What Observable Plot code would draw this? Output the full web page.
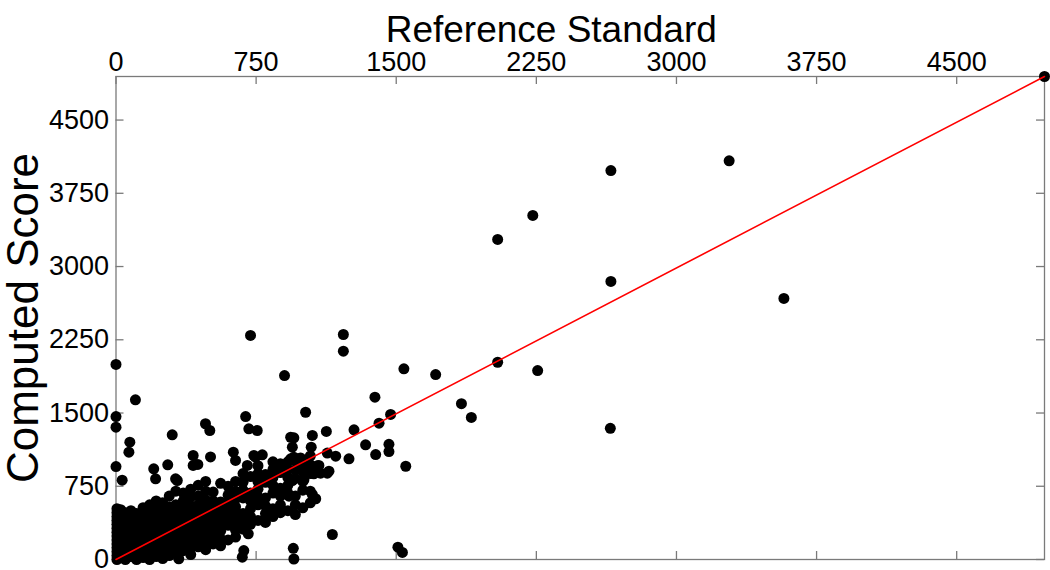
<!DOCTYPE html>
<html><head><meta charset="utf-8">
<script src="https://cdn.jsdelivr.net/npm/d3@7"></script>
<script src="https://cdn.jsdelivr.net/npm/@observablehq/plot@0.6"></script>
<style>body{margin:0;background:#fff}</style>
</head><body><div id="chart"></div>
<script>
const xTitle = "Reference Standard";
const yTitle = "Computed Score";
const tickValues = [0, 750, 1500, 2250, 3000, 3750, 4500];
const axisMax = [4970, 4946];
const fitLine = [[0, 0], [4970, 4946]];

// [reference standard, computed score]
const extremePoints = [
  [4970, 4946], [3282, 4082], [2649, 3983], [2231, 3523], [2043, 3277], [2649, 2847],
  [3575, 2673], [2043, 2020], [2257, 1935], [2646, 1343], [1711, 1894], [1849, 1596],
  [1902, 1455]
];
const upperScatter = [
  [1217, 2304], [1217, 2133], [720, 2294], [0, 1997], [902, 1884], [1541, 1953],
  [1386, 1662], [104, 1635], [1015, 1508], [1470, 1485], [1408, 1396], [1274, 1328],
  [1126, 1311], [1051, 1270], [952, 1246], [694, 1464], [0, 1464], [0, 1355],
  [479, 1390], [502, 1321], [711, 1338], [756, 1321], [301, 1277], [74, 1201],
  [69, 1099], [0, 952], [33, 812], [1336, 1174], [1461, 1180], [1461, 1105],
  [1390, 1075], [1045, 1150], [944, 1150], [1131, 1090], [1176, 1058], [1247, 1031],
  [1551, 955], [988, 1040], [952, 1048], [997, 990], [1078, 960], [1095, 884],
  [1131, 884], [944, 809], [1006, 816], [1059, 877], [1140, 904], [1086, 963],
  [899, 689], [926, 648], [1051, 666], [1069, 622], [935, 1252]
];
const lowOutliers = [
  [1158, 256], [949, 115], [952, 5], [1509, 126], [1533, 72], [336, 7], [676, 24],
  [684, 92], [708, 263]
];
const midScatter = [
  [202, 929], [212, 826], [277, 970], [319, 826], [328, 809], [413, 1065], [413, 963],
  [438, 973], [506, 1050], [628, 1099], [640, 1014], [703, 963], [738, 1065], [783, 1072],
  [863, 952], [899, 963], [935, 1031], [845, 939], [747, 1048]
];
const cloudNearZero = [
  [5, 0], [5, 40], [5, 80], [5, 120], [5, 160], [5, 200], [5, 240], [5, 280], [5, 320],
  [5, 360], [5, 400], [5, 440], [5, 480], [5, 520],
  [25, 20], [25, 90], [25, 160], [25, 230], [25, 300], [25, 370], [25, 440], [25, 510],
  [50, 0], [50, 60], [50, 130], [50, 200], [50, 270], [50, 340], [50, 410], [50, 480],
  [80, 30], [80, 100], [80, 170], [80, 240], [80, 310], [80, 380], [80, 450], [80, 500],
  [110, 0], [110, 70], [110, 140], [110, 210], [110, 280], [110, 350], [110, 420], [110, 470],
  [145, 20], [145, 90], [145, 160], [145, 230], [145, 300], [145, 370], [145, 440], [145, 530],
  [180, 0], [180, 60], [180, 130], [180, 200], [180, 270], [180, 340], [180, 410], [180, 480], [180, 560],
  [215, 30], [215, 100], [215, 170], [215, 240], [215, 310], [215, 380], [215, 450], [215, 520], [215, 600],
  [250, 10], [250, 80], [250, 150], [250, 220], [250, 290], [250, 360], [250, 430], [250, 500], [250, 580]
];
const cloudBand = [
  [285, 40], [285, 110], [285, 180], [285, 250], [285, 320], [285, 390], [285, 460], [285, 540], [285, 650],
  [320, 60], [320, 130], [320, 200], [320, 270], [320, 340], [320, 410], [320, 480], [320, 560], [320, 700],
  [360, 90], [360, 160], [360, 230], [360, 300], [360, 370], [360, 440], [360, 510], [360, 600], [360, 680],
  [400, 50], [400, 120], [400, 190], [400, 260], [400, 330], [400, 400], [400, 470], [400, 550], [400, 640], [400, 720],
  [440, 130], [440, 200], [440, 270], [440, 340], [440, 410], [440, 480], [440, 560], [440, 650], [440, 760],
  [480, 100], [480, 180], [480, 250], [480, 320], [480, 390], [480, 460], [480, 530], [480, 610], [480, 700], [480, 800],
  [520, 160], [520, 230], [520, 300], [520, 370], [520, 440], [520, 520], [520, 600], [520, 690],
  [560, 140], [560, 210], [560, 290], [560, 360], [560, 430], [560, 510], [560, 590], [560, 780],
  [600, 200], [600, 350], [600, 420], [600, 500], [600, 580], [600, 660], [600, 750],
  [640, 230], [640, 300], [640, 380], [640, 460], [640, 540], [640, 620], [640, 700], [640, 800]
];
const cloudUpperBand = [
  [680, 310], [680, 390], [680, 470], [680, 630], [680, 710], [680, 790], [680, 880],
  [720, 360], [720, 440], [720, 520], [720, 600], [720, 680], [720, 850],
  [760, 400], [760, 560], [760, 640], [760, 720], [760, 800], [760, 880], [760, 960],
  [800, 380], [800, 470], [800, 550], [800, 630], [800, 790], [800, 870],
  [840, 440], [840, 520], [840, 680], [840, 760], [840, 840], [840, 920], [840, 1000],
  [880, 480], [880, 560], [880, 650], [880, 730], [880, 890], [880, 980],
  [920, 500], [920, 680], [920, 760], [920, 840], [920, 920], [920, 1000],
  [960, 460], [960, 560], [960, 650], [960, 830], [960, 920], [960, 1010],
  [1000, 530], [1000, 710], [1000, 800], [1000, 900], [1000, 980],
  [1040, 580], [1040, 700], [1040, 880], [1040, 970], [1040, 1060]
];

const points = [...cloudNearZero, ...cloudBand, ...cloudUpperBand, ...midScatter,
  ...lowOutliers, ...upperScatter, ...extremePoints].map(([ref, score]) => ({ref, score}));

const W = 1050, H = 570, mL = 115.5, mR = 6, mT = 76, mB = 11;
const innerW = W - mL - mR, innerH = H - mT - mB;
const gray = "#7a7a7a", tickLen = 8;

const chart = Plot.plot({
  width: W, height: H,
  marginLeft: mL, marginRight: mR, marginTop: mT, marginBottom: mB,
  style: {fontFamily: "'Liberation Sans', Arial, Helvetica, sans-serif", fontSize: "27px", color: "#000", background: "#fff", overflow: "visible"},
  x: {domain: [0, axisMax[0]], axis: "top", ticks: tickValues, tickSize: 0, tickPadding: 6, label: null, tickFormat: "d"},
  y: {domain: [0, axisMax[1]], ticks: tickValues, tickSize: 0, tickPadding: 7, label: null, tickFormat: "d"},
  marks: [
    Plot.frame({stroke: gray, strokeWidth: 1.3}),
    Plot.tickX(tickValues, {x: d => d, stroke: gray, strokeWidth: 1.3, insetBottom: innerH - tickLen}),
    Plot.tickX(tickValues, {x: d => d, stroke: gray, strokeWidth: 1.3, insetTop: innerH - tickLen}),
    Plot.tickY(tickValues, {y: d => d, stroke: gray, strokeWidth: 1.3, insetRight: innerW - tickLen}),
    Plot.tickY(tickValues, {y: d => d, stroke: gray, strokeWidth: 1.3, insetLeft: innerW - tickLen}),
    Plot.dot(points, {x: "ref", y: "score", r: 5.5, fill: "#000", stroke: "none"}),
    Plot.line(fitLine, {x: d => d[0], y: d => d[1], stroke: "#ff0000", strokeWidth: 1.6}),
    Plot.text([xTitle], {frameAnchor: "top", dx: -29, dy: -61, fontSize: 37, fill: "#000"}),
    Plot.text([yTitle], {frameAnchor: "left", textAnchor: "middle", rotate: -90, dx: -92, fontSize: 44, fill: "#000"})
  ]
});
document.getElementById("chart").appendChild(chart);
</script>
</body></html>
